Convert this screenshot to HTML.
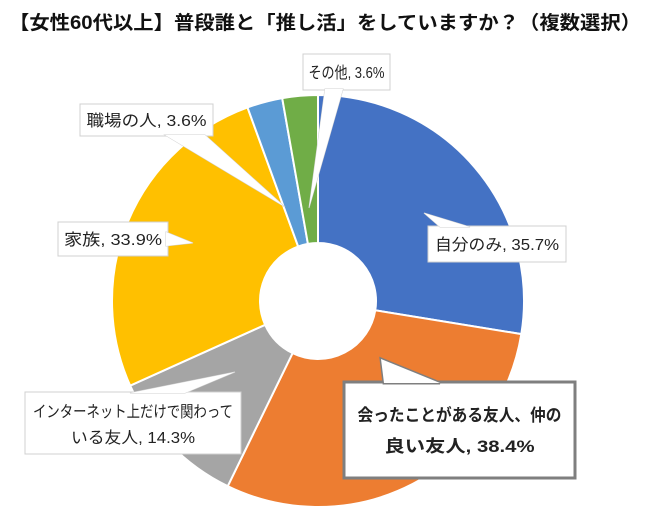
<!DOCTYPE html>
<html><head><meta charset="utf-8"><style>
html,body{margin:0;padding:0;background:#fff;}
body{width:650px;height:522px;overflow:hidden;position:relative;font-family:"Liberation Sans","Noto Sans CJK JP",sans-serif;}
svg{position:absolute;left:0;top:0;}
</style></head><body>
<svg id="chart" width="650" height="522" xmlns="http://www.w3.org/2000/svg">
<text x="325" y="29" text-anchor="middle" font-size="19" font-weight="bold" fill="#111" textLength="632" lengthAdjust="spacingAndGlyphs" font-family="Liberation Sans, Noto Sans CJK JP, sans-serif">【女性60代以上】普段誰と「推し活」をしていますか？（複数選択）</text>
<g id="slices"></g>
<g id="labels"></g>
</svg>
<script>
const categories = ["自分のみ","会ったことがある友人、仲の良い友人","インターネット上だけで関わっている友人","家族","職場の人","その他"];
const values = [35.7, 38.4, 14.3, 33.9, 3.6, 3.6];
const colors = ["#4472C4","#ED7D31","#A5A5A5","#FFC000","#5B9BD5","#70AD47"];
const sliceNames = ["slice-self","slice-friends","slice-online-friends","slice-family","slice-coworkers","slice-other"];

const NS="http://www.w3.org/2000/svg";
const cx=318, cy=301, R=206, r0=58;
const total=values.reduce((a,b)=>a+b,0);
function pt(a,rad){return [cx+rad*Math.sin(a), cy-rad*Math.cos(a)];}
const g=document.getElementById('slices');
let acc=0;
values.forEach((v,i)=>{
  const a0=acc/total*2*Math.PI; acc+=v; const a1=acc/total*2*Math.PI;
  const large=(a1-a0)>Math.PI?1:0;
  const p0=pt(a0,R),p1=pt(a1,R),q1=pt(a1,r0),q0=pt(a0,r0);
  const p=document.createElementNS(NS,'path');
  p.setAttribute('d',`M${p0} A${R},${R} 0 ${large} 1 ${p1} L${q1} A${r0},${r0} 0 ${large} 0 ${q0} Z`);
  p.setAttribute('fill',colors[i]);
  p.setAttribute('stroke','#fff');
  p.setAttribute('stroke-width','2');
  
  
  g.appendChild(p);
});

const lg=document.getElementById('labels');
function callout(name,x,y,w,h,tail,lines,opts){
  const grp=document.createElementNS(NS,'g');
  
  
  const stroke=opts.stroke||'#d0d0d0', sw=opts.sw||1;
  const rect=document.createElementNS(NS,'rect');
  rect.setAttribute('x',x);rect.setAttribute('y',y);rect.setAttribute('width',w);rect.setAttribute('height',h);
  rect.setAttribute('fill','#fff');rect.setAttribute('stroke',stroke);rect.setAttribute('stroke-width',sw);
  grp.appendChild(rect);
  const poly=document.createElementNS(NS,'polygon');
  poly.setAttribute('points',tail.map(p=>p.join(',')).join(' '));
  poly.setAttribute('fill','#fff');poly.setAttribute('stroke',stroke);poly.setAttribute('stroke-width',sw);
  grp.appendChild(poly);
  const cov=document.createElementNS(NS,'polygon');
  cov.setAttribute('points',[tail[0],tail[1],tail[2]].map(p=>p.join(',')).join(' '));
  cov.setAttribute('fill','#fff');
  grp.appendChild(cov);
  lines.forEach((t,k)=>{
    const tx=document.createElementNS(NS,'text');
    tx.setAttribute('x',x+w/2);
    tx.setAttribute('y',opts.ty[k]);
    tx.setAttribute('text-anchor','middle');
    tx.setAttribute('font-size',opts.fs||16);
    if(opts.bold) tx.setAttribute('font-weight','bold');
    tx.setAttribute('fill','#222');
    if(opts.tl && opts.tl[k]){tx.setAttribute('textLength',opts.tl[k]);tx.setAttribute('lengthAdjust','spacingAndGlyphs');}
    tx.textContent=t;
    grp.appendChild(tx);
  });
  lg.appendChild(grp);
}
callout('label-self',428,226,138,36,[[440,227],[424,213],[470,227]],['自分のみ, 35.7%'],{ty:[250],tl:[124]});
callout('label-family',58,222,110,34,[[166,232],[193,243],[166,246]],['家族, 33.9%'],{ty:[245],tl:[98]});
callout('label-coworkers',80,104,133,32,[[165,135],[285,207],[205,135]],['職場の人, 3.6%'],{ty:[126],tl:[120]});
callout('label-other',303,54,87,36,[[325,89],[309,208],[343,89]],['その他, 3.6%'],{ty:[78],tl:[76]});
callout('label-online-friends',25,392,216,62,[[130,393],[235,372],[185,393]],['インターネット上だけで関わって','いる友人, 14.3%'],{ty:[417,443],tl:[200,124]});
callout('label-friends',344,382,231,96,[[384,383],[381,359],[440,383]],['会ったことがある友人、仲の','良い友人, 38.4%'],{ty:[421,452],bold:true,fs:17,stroke:'#7f7f7f',sw:3,tl:[204,150]});
</script>
</body></html>
